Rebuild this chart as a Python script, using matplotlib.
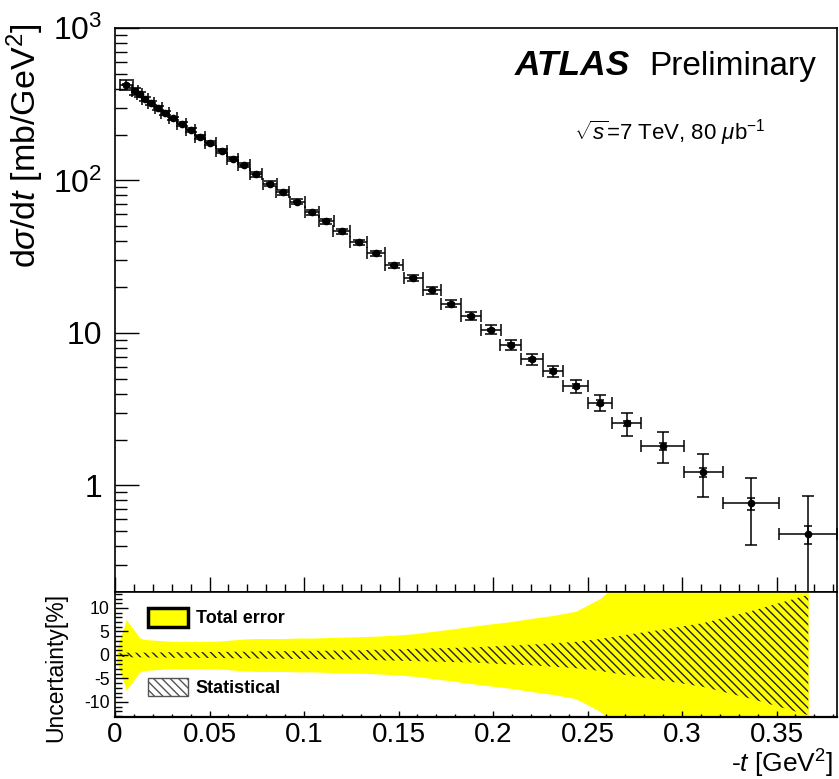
import numpy as np
import matplotlib
matplotlib.use("Agg")
import matplotlib.pyplot as plt
from matplotlib.ticker import MultipleLocator, FixedLocator, FuncFormatter, LogLocator, NullFormatter
from matplotlib.patches import Patch

plt.rcParams['font.family'] = ['Liberation Sans', 'DejaVu Sans']
plt.rcParams['mathtext.fontset'] = 'custom'
plt.rcParams['mathtext.rm'] = 'Liberation Sans'
plt.rcParams['mathtext.it'] = 'Liberation Sans:italic'
plt.rcParams['mathtext.bf'] = 'Liberation Sans:bold'
plt.rcParams['axes.unicode_minus'] = False
plt.rcParams['hatch.linewidth'] = 1.0

# ---- data ----
t = np.array([0.0060, 0.0106, 0.0132, 0.0159, 0.0190, 0.0229, 0.0266, 0.0307, 0.0353, 0.0401,
              0.0450, 0.0503, 0.0565, 0.0623, 0.0683, 0.0746, 0.0820, 0.0887, 0.0965, 0.1042,
              0.1118, 0.1199, 0.1289, 0.1381, 0.1476, 0.1577, 0.1677, 0.1778, 0.1884, 0.1988,
              0.2094, 0.2206, 0.2317, 0.2437, 0.2566, 0.2707, 0.2898, 0.3113, 0.3363, 0.3668])
t_halfwidth = np.array([0.0033, 0.0018, 0.0013, 0.0015, 0.0018, 0.0019, 0.0020, 0.0022, 0.0024, 0.0024,
                        0.0026, 0.0029, 0.0030, 0.0030, 0.0031, 0.0034, 0.0035, 0.0036, 0.0039, 0.0038,
                        0.0039, 0.0043, 0.0046, 0.0047, 0.0049, 0.0050, 0.0050, 0.0052, 0.0053, 0.0053,
                        0.0055, 0.0056, 0.0055, 0.0066, 0.0066, 0.0075, 0.0115, 0.0105, 0.0148, 0.0153])
dsigma_dt = np.array([426, 385, 367, 343, 321, 300, 279, 255, 235, 214,
                      194, 176, 157, 139, 126, 110, 95.5, 83.8, 72.5, 61.9,
                      54.2, 46.3, 39.4, 33.3, 27.7, 22.9, 19.0, 15.6, 12.9, 10.5,
                      8.37, 6.73, 5.62, 4.48, 3.49, 2.55, 1.81, 1.22, 0.762, 0.477])
total_pct = np.array([7.5, 5.0, 3.6, 3.3, 3.2, 3.1, 3.0, 2.9, 2.9, 2.9,
                      2.9, 2.9, 3.0, 3.2, 3.4, 3.5, 3.5, 3.5, 3.6, 3.6,
                      3.7, 3.8, 3.9, 4.0, 4.2, 4.5, 5.0, 5.5, 6.1, 6.6,
                      7.1, 7.8, 8.4, 9.3, 12.0, 17.0, 23.0, 31.0, 47.0, 78.0])
stat_pct = np.array([0.5, 0.5, 0.5, 0.5, 0.55, 0.55, 0.55, 0.6, 0.6, 0.6,
                     0.6, 0.65, 0.65, 0.7, 0.7, 0.75, 0.8, 0.8, 0.85, 0.9,
                     0.9, 0.95, 1.0, 1.1, 1.2, 1.3, 1.4, 1.5, 1.6, 1.8,
                     2.0, 2.2, 2.5, 2.8, 3.4, 4.3, 5.4, 6.8, 9.3, 12.8])
band_start_t = 0.001
band_start_pct = 1.5

W, H = 839, 779
fig = plt.figure(figsize=(W / 100, H / 100), dpi=100)
ax1 = fig.add_axes([115 / W, 1 - 592 / H, 722 / W, 564 / H])
ax2 = fig.add_axes([115 / W, 1 - 717 / H, 722 / W, 125 / H], sharex=ax1)

HATCH = '\\\\\\\\'

# ---- top panel ----
ax1.set_yscale('log')
ax1.errorbar(t, dsigma_dt, xerr=t_halfwidth, yerr=dsigma_dt * total_pct / 100,
             fmt='o', color='black', ms=4.5, elinewidth=1.1, capsize=4, capthick=1.1)
ax1.errorbar(t, dsigma_dt, yerr=dsigma_dt * stat_pct / 100,
             fmt='none', ecolor='black', elinewidth=1.1, capsize=3, capthick=1.1)
ax1.set_xlim(0, 0.382)
ax1.set_ylim(0.2, 1000)

ax1.yaxis.set_major_locator(FixedLocator([1, 10, 100, 1000]))
ax1.yaxis.set_minor_locator(LogLocator(base=10, subs=np.arange(2, 10), numticks=20))
ax1.yaxis.set_minor_formatter(NullFormatter())
ylabels_map = {1: '1', 10: '10', 100: r'$10^{2}$', 1000: r'$10^{3}$'}
ax1.yaxis.set_major_formatter(FuncFormatter(lambda v, p: ylabels_map.get(int(round(v)), '')))
ax1.xaxis.set_major_locator(MultipleLocator(0.05))
ax1.xaxis.set_minor_locator(MultipleLocator(0.01))
ax1.tick_params(axis='y', which='major', direction='in', length=17, width=1, labelsize=23, pad=9)
ax1.tick_params(axis='y', which='minor', direction='in', length=8.6, width=1)
ax1.tick_params(axis='x', which='major', direction='in', length=11, width=1, labelbottom=False)
ax1.tick_params(axis='x', which='minor', direction='in', length=5.5, width=1)
for s in ax1.spines.values():
    s.set_linewidth(1.2)

ax1.set_ylabel(r'd$\sigma$/d$t$ [mb/GeV$^{2}$]', fontsize=24.5, loc='top')
ax1.yaxis.set_label_coords(-0.095, 1.008)

ax1.text(0.554, 0.9167, 'ATLAS', transform=ax1.transAxes, fontsize=25.5,
         fontweight='bold', fontstyle='italic', va='baseline', ha='left')
ax1.text(0.7396, 0.9167, 'Preliminary', transform=ax1.transAxes, fontsize=24,
         va='baseline', ha='left')
ax1.text(0.768, 0.801, r'$\sqrt{s}$=7 TeV, 80 $\mu$b$^{-1}$', transform=ax1.transAxes,
         fontsize=16, va='baseline', ha='center')

# ---- bottom panel ----
band_t = np.concatenate([[band_start_t], t])
band_tot = np.concatenate([[band_start_pct], total_pct])
band_stat = np.concatenate([[band_start_pct * 0.2], stat_pct])
ax2.fill_between(band_t, -band_tot, band_tot, color='#ffff00', lw=0)
ax2.fill_between(band_t, -band_stat, band_stat, facecolor='none', edgecolor='#222222',
                 hatch=HATCH, lw=0)
ax2.set_ylim(-13.2, 13.4)
ax2.yaxis.set_major_locator(FixedLocator([-10, -5, 0, 5, 10]))
ax2.yaxis.set_minor_locator(MultipleLocator(1))
ax2.yaxis.set_major_formatter(FuncFormatter(lambda v, p: f'{v:g}'))
ax2.xaxis.set_major_formatter(FuncFormatter(lambda v, p: f'{v:g}'))
ax2.tick_params(axis='y', which='major', direction='in', length=9.5, width=1, labelsize=12.7, pad=4)
ax2.tick_params(axis='y', which='minor', direction='in', length=5, width=1)
ax2.tick_params(axis='x', which='major', direction='in', length=4.3, width=1, labelsize=20, pad=3.6)
ax2.tick_params(axis='x', which='minor', direction='in', length=2.2, width=1)
for s in ax2.spines.values():
    s.set_linewidth(1.2)
ax2.spines['bottom'].set_linewidth(1.6)

ax2.set_ylabel('Uncertainty[%]', fontsize=16.5)
ax2.yaxis.set_label_coords(-0.0665, 0.396)
ax2.set_xlabel(r'-$t$ [GeV$^{2}$]', fontsize=19, loc='right')
ax2.xaxis.set_label_coords(0.9945, -0.245)

handles = [Patch(facecolor='#ffff00', edgecolor='black', linewidth=2.5, label='Total error'),
           Patch(facecolor='white', edgecolor='#555555', hatch=HATCH, linewidth=1.0, label='Statistical')]
ax2.legend(handles=handles, loc='upper left', bbox_to_anchor=(0.0457, 0.872), frameon=False,
           prop={'weight': 'bold', 'size': 13}, handlelength=2.2, handleheight=1.2,
           labelspacing=2.8, handletextpad=0.45, borderpad=0, borderaxespad=0)

fig.savefig('out.png', dpi=100)
